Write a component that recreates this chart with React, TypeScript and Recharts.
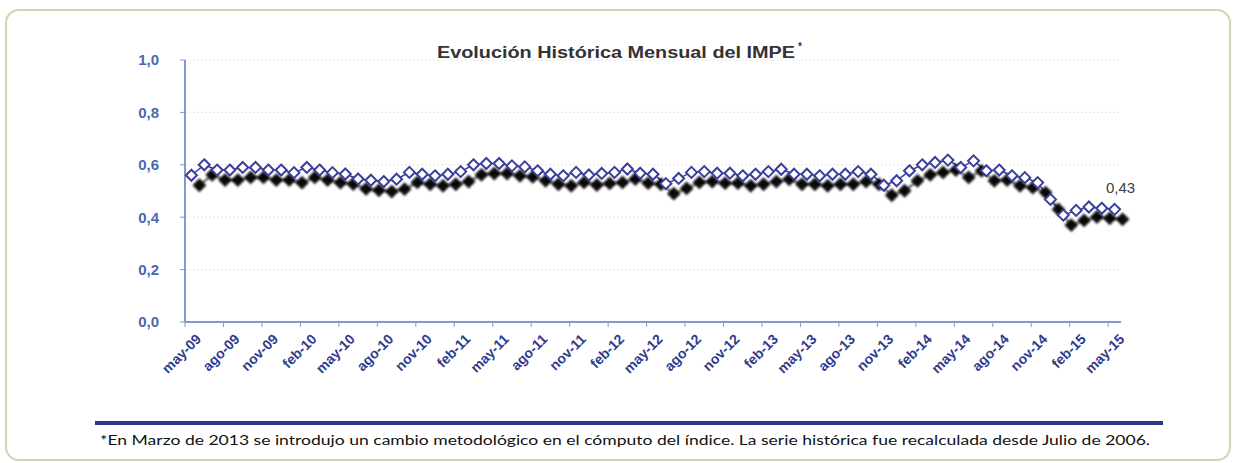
import { LineChart, Line, XAxis, YAxis, CartesianGrid, LabelList } from 'recharts'

// IMPE mensual, may-09 .. may-15 (73 meses)
const IMPE = [
  0.56, 0.6, 0.58, 0.58, 0.59, 0.59, 0.58, 0.58, 0.57, 0.59, 0.58, 0.57, 0.565, 0.546,
  0.541, 0.536, 0.545, 0.571, 0.564, 0.558, 0.564, 0.574, 0.6, 0.605, 0.605, 0.596, 0.592, 0.577, 0.564,
  0.558, 0.571, 0.561, 0.567, 0.571, 0.584, 0.568, 0.564, 0.528, 0.548, 0.571, 0.574, 0.568, 0.568,
  0.558, 0.564, 0.574, 0.583, 0.564, 0.564, 0.558, 0.564, 0.564, 0.574, 0.564, 0.522, 0.539, 0.577, 0.6,
  0.609, 0.618, 0.59, 0.615, 0.577, 0.58, 0.558, 0.551, 0.532, 0.468, 0.408, 0.426, 0.439, 0.434, 0.43,
]

const TICK_LABELS = [
  'may-09', 'ago-09', 'nov-09', 'feb-10', 'may-10', 'ago-10', 'nov-10', 'feb-11', 'may-11',
  'ago-11', 'nov-11', 'feb-12', 'may-12', 'ago-12', 'nov-12', 'feb-13', 'may-13', 'ago-13',
  'nov-13', 'feb-14', 'may-14', 'ago-14', 'nov-14', 'feb-15', 'may-15',
]

const Y_TICKS = [0, 0.2, 0.4, 0.6, 0.8, 1]

const TITLE = 'Evolución Histórica Mensual del IMPE'
const NOTE =
  '*En Marzo de 2013 se introdujo un cambio metodológico en el cómputo del índice. La serie histórica fue recalculada desde Julio de 2006.'

const data = IMPE.map((v, i) => ({ idx: i, impe: v }))
// marcas entre categorías, cada 3 meses
const X_TICKS = TICK_LABELS.map((_, k) => k * 3 - 0.5)

const fmt = (v: number) => v.toFixed(1).replace('.', ',')

const SHADOW = 'drop-shadow(8px 10px 1.3px rgba(0,0,0,0.95))'

function XTick(props: any) {
  const { x, y, payload } = props
  const label = TICK_LABELS[Math.round((payload.value + 0.5) / 3)]
  const ax = x + 17
  const ay = y + 11
  return (
    <text
      x={ax}
      y={ay}
      transform={`rotate(-45 ${ax} ${ay})`}
      textAnchor="end"
      fontSize={14}
      fontWeight="bold"
      fontFamily="'Liberation Sans', Arial, sans-serif"
      fill="#2e3b8f"
    >
      {label}
    </text>
  )
}

function Diamond(props: any) {
  const { cx, cy, index } = props
  if (cx == null || cy == null) return <g key={index} />
  const r = 5.5
  return (
    <path
      key={index}
      d={`M${cx},${cy - r} L${cx + r},${cy} L${cx},${cy + r} L${cx - r},${cy} Z`}
      fill="#ffffff"
      stroke="#3a3f9c"
      strokeWidth={2}
      style={{ filter: SHADOW }}
    />
  )
}

function LastLabel(props: any) {
  const { x, y, index, value } = props
  if (index !== IMPE.length - 1) return null
  return (
    <text
      x={x + 6}
      y={y - 16}
      textAnchor="middle"
      fontSize={15}
      fontFamily="'Liberation Sans', Arial, sans-serif"
      fill="#404040"
    >
      {Number(value).toFixed(2).replace('.', ',')}
    </text>
  )
}

export default function App() {
  return (
    <div style={{ position: 'absolute', left: 0, top: 0, width: 1235, height: 463, background: '#fff' }}>
      <style>{`.impe-series .recharts-line-curve { filter: drop-shadow(8px 10px 0.8px rgba(0,0,0,0.9)); }`}</style>
      <div
        style={{
          position: 'absolute',
          left: 5,
          top: 9,
          width: 1226,
          height: 452,
          border: '2px solid #d6d2b2',
          borderRadius: 14,
          boxSizing: 'border-box',
        }}
      />
      <div style={{ position: 'absolute', left: 0, top: 0 }}>
        <LineChart width={1235} height={463} data={data} margin={{ top: 60, right: 114, bottom: 111, left: 125 }}>
          <CartesianGrid vertical={false} stroke="#e4e4e4" strokeDasharray="2 2" />
          <XAxis
            type="number"
            dataKey="idx"
            domain={[-0.5, IMPE.length - 0.5]}
            ticks={X_TICKS}
            interval={0}
            height={30}
            tick={<XTick />}
            tickSize={5}
            axisLine={{ stroke: '#8696cf', strokeWidth: 2 }}
            tickLine={{ stroke: '#8696cf' }}
          />
          <YAxis
            domain={[0, 1]}
            ticks={Y_TICKS}
            interval={0}
            width={60}
            tickFormatter={fmt}
            tickSize={5}
            tickMargin={21}
            tick={{ fill: '#4a67b3', fontSize: 15, fontWeight: 'bold', fontFamily: "'Liberation Sans', Arial, sans-serif" }}
            axisLine={{ stroke: '#8696cf', strokeWidth: 2 }}
            tickLine={{ stroke: '#8696cf' }}
          />
          <Line
            className="impe-series"
            type="linear"
            dataKey="impe"
            stroke="#3a3f9c"
            strokeWidth={1.5}
            dot={<Diamond />}
            activeDot={false}
            isAnimationActive={false}
          />
          <Line
            type="linear"
            dataKey="impe"
            stroke="none"
            dot={false}
            activeDot={false}
            isAnimationActive={false}
          >
            <LabelList dataKey="impe" content={<LastLabel />} />
          </Line>
        </LineChart>
      </div>
      <svg width={1235} height={463} style={{ position: 'absolute', left: 0, top: 0, pointerEvents: 'none' }}>
        <text
          x={437}
          y={58}
          textLength={358}
          lengthAdjust="spacingAndGlyphs"
          fontSize={16}
          fontWeight="bold"
          fontFamily="'Liberation Sans Narrow', 'Liberation Sans', Arial, sans-serif"
          fill="#333333"
        >
          {TITLE}
        </text>
        <text x={798} y={50} fontSize={10} fontWeight="bold" fontFamily="'Liberation Sans', Arial, sans-serif" fill="#333333">
          *
        </text>
        <rect x={95} y={421} width={1068} height={4} fill="#2b3a8c" />
        <text
          x={100}
          y={445}
          textLength={1050}
          lengthAdjust="spacingAndGlyphs"
          fontSize={13}
          fontFamily="Lato, 'Open Sans', sans-serif"
          fill="#111111"
        >
          {NOTE}
        </text>
      </svg>
    </div>
  )
}
